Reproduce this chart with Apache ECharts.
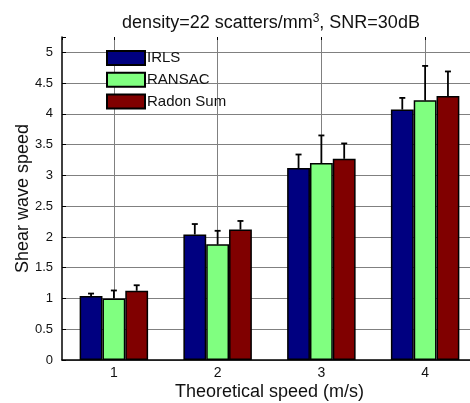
<!DOCTYPE html>
<html>
<head>
<meta charset="utf-8">
<script src="https://cdn.jsdelivr.net/npm/echarts@6/dist/echarts.min.js"></script>
<style>
html,body{margin:0;padding:0;background:#fff;}
#chart{width:470px;height:403px;}
</style>
</head>
<body>
<div id="chart"></div>
<script>
const categories = ['1', '2', '3', '4'];
const seriesNames = ['IRLS', 'RANSAC', 'Radon Sum'];
const irlsMean = [1.04, 2.04, 3.12, 4.07];
const ransacMean = [1.00, 1.88, 3.20, 4.22];
const radonMean = [1.125, 2.12, 3.27, 4.29];
const irlsErr = [0.04, 0.17, 0.22, 0.19];
const ransacErr = [0.13, 0.22, 0.45, 0.56];
const radonErr = [0.09, 0.14, 0.25, 0.40];
const yTicks = [0, 0.5, 1, 1.5, 2, 2.5, 3, 3.5, 4, 4.5, 5];

const colors = ['#000080', '#80ff80', '#800000'];
const means = [irlsMean, ransacMean, radonMean];
const errs = [irlsErr, ransacErr, radonErr];
const FONT = '"Liberation Sans", Arial, Helvetica, sans-serif';
const CAT_GAP = 0.34;

const errData = [];
means.forEach((m, k) => {
  m.forEach((v, i) => errData.push([i, v, k, errs[k][i]]));
});

const chart = echarts.init(document.getElementById('chart'), null, {renderer: 'canvas'});

const barSeries = seriesNames.map((n, k) => ({
  name: n,
  type: 'bar',
  xAxisIndex: 0,
  data: means[k],
  barGap: '0%',
  barCategoryGap: (CAT_GAP * 100) + '%',
  itemStyle: {color: colors[k], borderColor: '#000', borderWidth: 1.5},
  emphasis: {disabled: true},
  z: 2
}));

const errSeries = {
  type: 'custom',
  xAxisIndex: 0,
  data: errData,
  encode: {x: 0, y: 1},
  z: 5,
  silent: true,
  renderItem: function (params, api) {
    const ci = api.value(0), v = api.value(1), k = api.value(2), e = api.value(3);
    const band = api.size([1, 0])[0];
    const bw = band * (1 - CAT_GAP) / 3;
    const base = api.coord([ci, v]);
    const top = api.coord([ci, v + e]);
    const x = base[0] + (k - 1) * bw;
    const st = {stroke: '#000', lineWidth: 1.8};
    return {
      type: 'group',
      children: [
        {type: 'line', shape: {x1: x, y1: base[1], x2: x, y2: top[1]}, style: st},
        {type: 'line', shape: {x1: x - 3, y1: top[1], x2: x + 3, y2: top[1]}, style: st}
      ]
    };
  }
};

chart.setOption({
  animation: false,
  backgroundColor: '#fff',
  textStyle: {fontFamily: FONT},
  title: {
    text: 'density=22 scatters/mm{sup|3}, SNR=30dB',
    left: 266,
    top: 8,
    textAlign: 'center',
    textStyle: {
      fontFamily: FONT, fontSize: 18, fontWeight: 'normal', color: '#111',
      rich: {sup: {fontFamily: FONT, fontSize: 12, verticalAlign: 'top', padding: [0, 0, 9, 0], color: '#111'}}
    }
  },
  legend: {
    data: seriesNames,
    orient: 'vertical',
    left: 106,
    top: 50,
    itemWidth: 38,
    itemHeight: 14,
    itemGap: 5.7,
    icon: 'rect',
    textStyle: {fontFamily: FONT, fontSize: 15, color: '#111', padding: [0, 0, 0, -3]},
    padding: 0,
    selectedMode: false
  },
  grid: {left: 62, right: -7, top: 37, bottom: 43, containLabel: false, outerBoundsMode: 'none'},
  xAxis: [
    {
      type: 'category',
      data: categories,
      boundaryGap: true,
      name: 'Theoretical speed (m/s)',
      nameLocation: 'middle',
      nameGap: 23,
      nameMoveOverlap: false,
      nameTextStyle: {fontFamily: FONT, fontSize: 18, color: '#111', verticalAlign: 'top'},
      axisLine: {show: true, lineStyle: {color: '#000', width: 1.5}},
      axisTick: {show: true, alignWithLabel: true, inside: true, length: 4, lineStyle: {color: '#000'}},
      axisLabel: {fontFamily: FONT, fontSize: 14, color: '#111', margin: 6},
      splitLine: {show: false}
    },
    {
      type: 'value',
      min: 0.5,
      max: 4.5,
      position: 'top',
      axisLine: {show: false},
      axisLabel: {show: false},
      axisTick: {show: true, inside: true, length: 3, lineStyle: {color: '#000'}},
      splitLine: {show: true, showMinLine: false, showMaxLine: false, lineStyle: {color: '#808080', type: 'solid', width: 1}}
    }
  ],
  yAxis: {
    type: 'value',
    min: 0,
    max: 5.25,
    interval: 0.5,
    name: 'Shear wave speed',
    nameLocation: 'middle',
    nameGap: 30,
    nameMoveOverlap: false,
    nameTextStyle: {fontFamily: FONT, fontSize: 18, color: '#111'},
    axisLine: {show: true, lineStyle: {color: '#000', width: 1.5}},
    axisTick: {show: true, inside: true, length: 4, lineStyle: {color: '#000'}},
    axisLabel: {
      fontFamily: FONT, fontSize: 13, color: '#111', margin: 9,
      formatter: function (v) {
        return yTicks.some(t => Math.abs(t - v) < 1e-6) ? String(v) : '';
      }
    },
    splitLine: {show: true, showMaxLine: false, lineStyle: {color: '#808080', type: 'solid', width: 1}}
  },
  series: barSeries.concat([errSeries])
});
</script>
</body>
</html>
